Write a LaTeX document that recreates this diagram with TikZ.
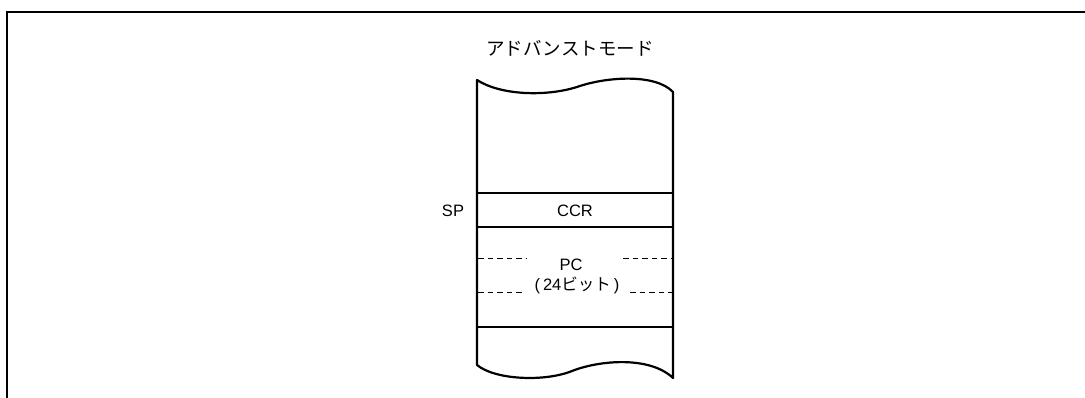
\documentclass[tikz,border=0pt]{standalone}
\usepackage{fontspec}
\setmainfont{Liberation Sans}
\newfontfamily\jp{Noto Sans CJK JP}
\begin{document}
\begin{tikzpicture}[x=1pt,y=-1pt,
  frameline/.style={line width=2.6pt},
  boxline/.style={line width=2.2pt, line join=round},
  dashline/.style={line width=1pt, dash pattern=on 5.5pt off 4pt},
  lbl/.style={inner sep=0pt, font=\fontsize{16.5}{18}\selectfont}]
\useasboundingbox (0,0) rectangle (1085,398);
% frame
\draw[frameline] (7,398) -- (7,12) -- (1085,12);
% box outline
\draw[boxline] (477,80)
  .. controls (500,95) and (545,97) .. (577,87)
  .. controls (605,77) and (655,73) .. (673,92)
  -- (673,378)
  .. controls (650,356) and (600,360) .. (572,371)
  .. controls (545,382) and (495,380) .. (477,365) -- cycle;
% horizontal rules
\draw[boxline] (477,193) -- (673,193);
\draw[boxline] (477,227) -- (673,227);
\draw[boxline] (477,327) -- (673,327);
% dashed rules
\draw[dashline] (478,259) -- (527,259);
\draw[dashline] (623,259) -- (673,259);
\draw[dashline] (478,293) -- (523,293);
\draw[dashline] (630,293) -- (673,293);
% texts
\node[lbl, font=\jp\fontsize{18.5}{20}\selectfont] (title) at (570,48) {アドバンストモード};
\node[lbl] (sp) at (453,211) {SP};
\node[lbl] (ccr) at (575,211) {CCR};
\node[lbl] (pc) at (571,265) {PC};
\node[lbl] (bits) at (577,285) {(\hspace{3pt}24{\jp ビット}\hspace{3pt})};
\end{tikzpicture}
\end{document}
